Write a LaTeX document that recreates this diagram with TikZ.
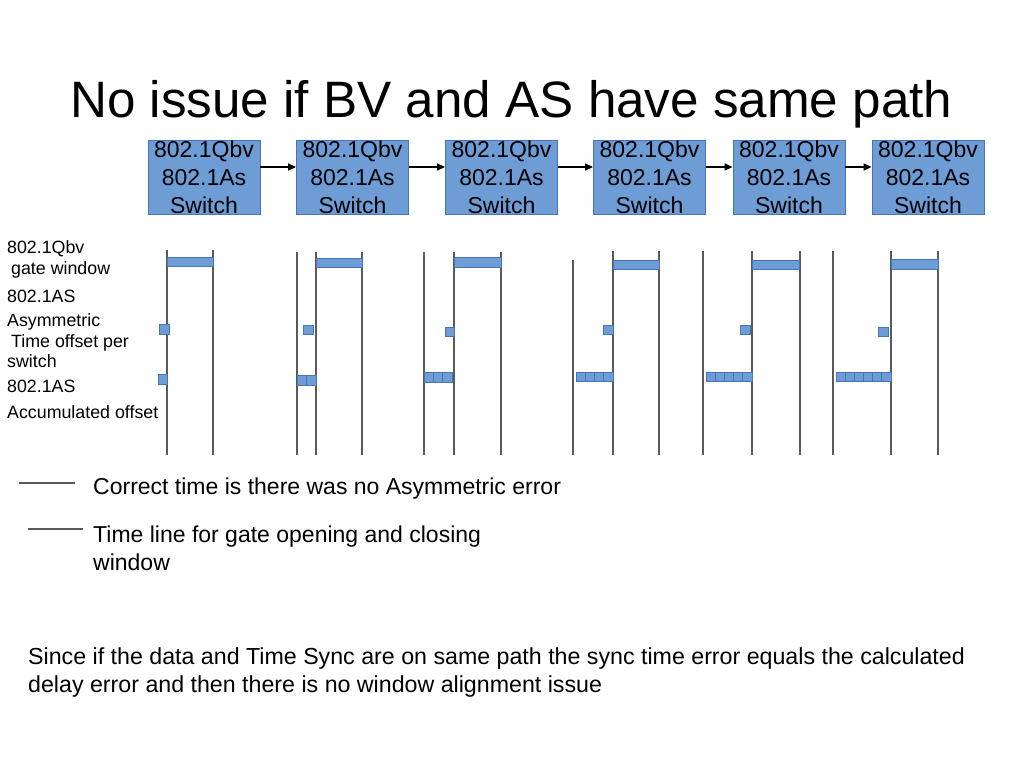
\documentclass[tikz,border=0pt]{standalone}
\usepackage{fontspec}
\setmainfont{Liberation Sans}
\usetikzlibrary{arrows.meta}
\definecolor{boxfill}{RGB}{110,156,213}
\definecolor{boxdraw}{RGB}{70,118,185}
\definecolor{tl}{RGB}{90,90,90}
\begin{document}
\begin{tikzpicture}[x=1pt,y=-1pt,
  swbox/.style={draw=boxdraw, fill=boxfill, line width=0.8pt, minimum width=112pt, minimum height=74pt, inner sep=0pt, align=center, font=\fontsize{23}{28}\selectfont},
  flow/.style={-{Triangle[length=8pt,width=7pt]}, line width=1.3pt, black},
  tline/.style={draw=tl, line width=1.5pt},
  sq/.style={draw=boxdraw, fill=boxfill, line width=0.8pt},
  lbl/.style={anchor=base west, inner sep=0pt, font=\fontsize{17.8}{21}\selectfont},
  body/.style={anchor=base west, inner sep=0pt, font=\fontsize{23}{28}\selectfont},
  bodyb/.style={anchor=base west, inner sep=0pt, font=\fontsize{23.2}{28}\selectfont},
  legline/.style={draw=tl, line width=1.1pt}]
\useasboundingbox (0,0) rectangle (1024,768);

% title
\node[anchor=base west, inner sep=0pt, font=\fontsize{51.2}{60}\selectfont] (title) at (70,117) {No issue if BV and AS have same path};

% switches
\node[swbox] (s1) at (204,177) {802.1Qbv\\802.1As\\Switch};
\node[swbox] (s2) at (352.5,177) {802.1Qbv\\802.1As\\Switch};
\node[swbox] (s3) at (501.5,177) {802.1Qbv\\802.1As\\Switch};
\node[swbox] (s4) at (649.5,177) {802.1Qbv\\802.1As\\Switch};
\node[swbox] (s5) at (789,177) {802.1Qbv\\802.1As\\Switch};
\node[swbox] (s6) at (928,177) {802.1Qbv\\802.1As\\Switch};
\foreach \a/\b in {s1/s2,s2/s3,s3/s4,s4/s5,s5/s6}
  \draw[flow] ([yshift=10pt]\a.east) -- ([yshift=10pt]\b.west);

% left labels
\node[lbl] (l1) at (7,253) {802.1Qbv};
\node[lbl] (l2) at (11,274) {gate window};
\node[lbl] (l3) at (7,302) {802.1AS};
\node[lbl] (l4) at (7,326) {Asymmetric};
\node[lbl] (l5) at (11,347) {Time offset per};
\node[lbl] (l6) at (7,367) {switch};
\node[lbl] (l7) at (7,392) {802.1AS};
\node[lbl] (l8) at (7,418) {Accumulated offset};

% group 1
\draw[tline] (167,250) -- (167,455);
\draw[tline] (213,250) -- (213,455);
\draw[sq] (167,257) rectangle (213,266);
\draw[sq] (159,324) rectangle (169,334);
\draw[sq] (158,374) rectangle (167,384);

% group 2
\draw[tline] (297,252) -- (297,455);
\draw[tline] (316,252) -- (316,455);
\draw[tline] (362,252) -- (362,455);
\draw[sq] (316,258) rectangle (362,267);
\draw[sq] (303,325) rectangle (313,334);
\foreach \i in {0,1} \draw[sq] ({297+\i*9.5},375) rectangle ++(9.5,10);

% group 3
\draw[tline] (424,252) -- (424,455);
\draw[tline] (454,252) -- (454,455);
\draw[tline] (501,252) -- (501,455);
\draw[sq] (454,257) rectangle (501,267);
\draw[sq] (445,327) rectangle (454,336);
\foreach \i in {0,1,2} \draw[sq] ({424+\i*9.4},372) rectangle ++(9.4,10);

% group 4
\draw[tline] (573,260) -- (573,455);
\draw[tline] (613,251) -- (613,455);
\draw[tline] (659,251) -- (659,455);
\draw[sq] (613,260) rectangle (659,269);
\draw[sq] (603,325) rectangle (613,334);
\foreach \i in {0,...,3} \draw[sq] ({576+\i*9.25},372) rectangle ++(9.25,9);

% group 5
\draw[tline] (703,251) -- (703,455);
\draw[tline] (752,251) -- (752,455);
\draw[tline] (800,251) -- (800,455);
\draw[sq] (752,260) rectangle (799,269);
\draw[sq] (740,325) rectangle (750,334);
\foreach \i in {0,...,4} \draw[sq] ({706+\i*9.2},372) rectangle ++(9.2,9);

% group 6
\draw[tline] (833,251) -- (833,455);
\draw[tline] (891,251) -- (891,455);
\draw[tline] (938,251) -- (938,455);
\draw[sq] (891,259) rectangle (938,269);
\draw[sq] (878,327) rectangle (888,336);
\foreach \i in {0,...,5} \draw[sq] ({836+\i*9.17},372) rectangle ++(9.17,9);

% legend
\draw[legline] (19,483) -- (75,483);
\node[body] (t1) at (93,494) {Correct time is there was no Asymmetric error};
\draw[legline] (28,529) -- (83,529);
\node[body] (t2) at (93,542) {Time line for gate opening and closing};
\node[body] (t3) at (93,570) {window};

% bottom text
\node[bodyb] (b1) at (28,664) {Since if the data and Time Sync are on same path the sync time error equals the calculated};
\node[bodyb] (b2) at (28,692) {delay error and then there is no window alignment issue};
\end{tikzpicture}
\end{document}
